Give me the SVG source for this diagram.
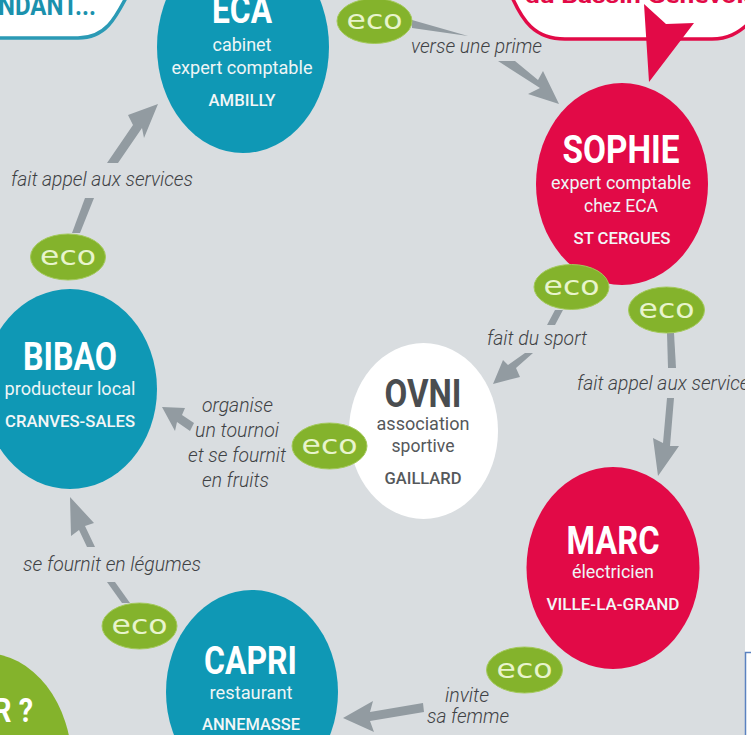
<svg xmlns="http://www.w3.org/2000/svg" width="751" height="735" viewBox="0 0 751 735">
<style>
text{font-family:Roboto,"Liberation Sans",sans-serif;text-anchor:middle}
.n{font-weight:700;font-size:38px;fill:#fff}
.s{font-size:19px;fill:#eef5f6}
.c{font-size:17px;font-weight:500;fill:#f3f6f7}
.d{fill:#55585b}
.l{font-size:19.500px;font-style:italic;font-weight:300;fill:#3f4245}
.e{fill:#84b32c;stroke:#a3c95a;stroke-width:1}
.et{font-family:"DejaVu Sans",sans-serif;font-size:27px;fill:#e8f4cc}
.a{fill:#929ba1}
.b{fill:#0f98b5}.r{fill:#e20a47}
</style>
<rect width="751" height="735" fill="#d9dde0"/>
<g id="bubble-left"><path d="M-10-10H130C115 20 105 38 78 38H-10Z" fill="#fff" stroke="#2b9ab5" stroke-width="3.500"/><text x="47" y="15" font-size="27" font-weight="700" fill="#1b91ad" textLength="98" lengthAdjust="spacingAndGlyphs">NDANT...</text></g>
<g id="bubble-right"><path d="M509-10C522 22 535 39 565 39H712C728 39 738 33 748 24V-10Z" fill="#fff" stroke="#e20a47" stroke-width="3.500"/><text x="525" y="3" font-size="22" font-weight="700" fill="#e20a47" style="text-anchor:start" textLength="232" lengthAdjust="spacingAndGlyphs">du Bassin  Genevois</text></g>
<g id="connectors">
<path class="r" d="M644 4L666 24L694 23L649 82Z"/>
<path class="a" d="M412 20L468 36L412 28Z"/>
<path class="a" d="M498 61H515L538 80L543 71L559 104L528 94L540 88Z"/>
<path class="a" d="M107 163L133 125L128 115L158 104L144 138L142 128L118 163Z"/>
<path class="a" d="M85 198H94L80 233H72Z"/>
<path class="a" d="M555 310H563L555 325H547Z"/>
<path class="a" d="M525 353H533L516 368L520 377L493 384L503 360L508 365Z"/>
<path class="a" d="M667 333H674L676 368H668Z"/>
<path class="a" d="M667 398H674L670 446L679 446L658 476L653 438L663 443Z"/>
<path class="a" d="M162 407L185 408L182 415L194 423L190 431L177 422L175 431Z"/>
<path class="a" d="M70 497L94 523L85 526L95 547H87L79 530L71 536Z"/>
<path class="a" d="M107 582H115L130 603H122Z"/>
<path class="a" d="M343 718L373 701L370 712L423 703L424 712L370 721L374 732Z"/>
</g>
<g id="eca"><ellipse cx="243" cy="47" rx="86" ry="106" class="b"/><text x="242" y="23" class="n" textLength="60" lengthAdjust="spacingAndGlyphs">ECA</text><text x="242" y="51" class="s" textLength="59" lengthAdjust="spacingAndGlyphs">cabinet</text><text x="242" y="74" class="s" textLength="141" lengthAdjust="spacingAndGlyphs">expert comptable</text><text x="242" y="106" class="c" textLength="67" lengthAdjust="spacingAndGlyphs">AMBILLY</text></g>
<g id="sophie"><ellipse cx="622" cy="184" rx="86" ry="101" class="r"/><text x="621" y="163" class="n" textLength="117" lengthAdjust="spacingAndGlyphs">SOPHIE</text><text x="621" y="189" class="s" textLength="140" lengthAdjust="spacingAndGlyphs">expert comptable</text><text x="621" y="212" class="s" textLength="74" lengthAdjust="spacingAndGlyphs">chez ECA</text><text x="622" y="244" class="c" textLength="97" lengthAdjust="spacingAndGlyphs">ST CERGUES</text></g>
<g id="bibao"><ellipse cx="70" cy="389" rx="87" ry="100" class="b"/><text x="70" y="370" class="n" textLength="94" lengthAdjust="spacingAndGlyphs">BIBAO</text><text x="70" y="395" class="s" textLength="131" lengthAdjust="spacingAndGlyphs">producteur local</text><text x="70" y="427" class="c" textLength="130" lengthAdjust="spacingAndGlyphs">CRANVES-SALES</text></g>
<g id="ovni"><ellipse cx="423.500" cy="431" rx="74.500" ry="88" fill="#fff"/><text x="423" y="407" class="n d" style="fill:#4a4d50" textLength="77" lengthAdjust="spacingAndGlyphs">OVNI</text><text x="423" y="430" class="s d" style="fill:#55585b" textLength="93" lengthAdjust="spacingAndGlyphs">association</text><text x="423" y="452" class="s d" style="fill:#55585b" textLength="63" lengthAdjust="spacingAndGlyphs">sportive</text><text x="423" y="484" class="c d" style="fill:#55585b" textLength="77" lengthAdjust="spacingAndGlyphs">GAILLARD</text></g>
<g id="marc"><ellipse cx="613" cy="568" rx="86.500" ry="101" class="r"/><text x="613" y="554" class="n" textLength="93" lengthAdjust="spacingAndGlyphs">MARC</text><text x="613" y="578" class="s" textLength="82" lengthAdjust="spacingAndGlyphs">électricien</text><text x="613" y="610" class="c" textLength="133" lengthAdjust="spacingAndGlyphs">VILLE-LA-GRAND</text></g>
<g id="capri"><ellipse cx="252" cy="692" rx="86" ry="102" class="b"/><text x="250.500" y="674" class="n" textLength="93" lengthAdjust="spacingAndGlyphs">CAPRI</text><text x="251" y="699" class="s" textLength="83" lengthAdjust="spacingAndGlyphs">restaurant</text><text x="251" y="730" class="c" textLength="98" lengthAdjust="spacingAndGlyphs">ANNEMASSE</text></g>
<g id="green"><ellipse cx="-15" cy="765" rx="87" ry="112" fill="#84b32c"/><text x="13" y="722" font-size="34" font-weight="700" fill="#fff" textLength="40" lengthAdjust="spacingAndGlyphs">R ?</text></g>
<g id="eco-1"><ellipse cx="374.500" cy="21" rx="37.500" ry="22.500" class="e"/><text x="374.500" y="29" class="et" textLength="56" lengthAdjust="spacingAndGlyphs">eco</text></g>
<g id="eco-2"><ellipse cx="68" cy="257" rx="37.500" ry="23" class="e"/><text x="68" y="265" class="et" textLength="56" lengthAdjust="spacingAndGlyphs">eco</text></g>
<g id="eco-3"><ellipse cx="571.500" cy="287" rx="37.500" ry="22.500" class="e"/><text x="571.500" y="295" class="et" textLength="56" lengthAdjust="spacingAndGlyphs">eco</text></g>
<g id="eco-4"><ellipse cx="666.500" cy="310" rx="38" ry="23" class="e"/><text x="666.500" y="318" class="et" textLength="56" lengthAdjust="spacingAndGlyphs">eco</text></g>
<g id="eco-5"><ellipse cx="329.500" cy="446" rx="37.500" ry="23" class="e"/><text x="329.500" y="454" class="et" textLength="56" lengthAdjust="spacingAndGlyphs">eco</text></g>
<g id="eco-6"><ellipse cx="139.500" cy="626" rx="37.500" ry="23" class="e"/><text x="139.500" y="634" class="et" textLength="56" lengthAdjust="spacingAndGlyphs">eco</text></g>
<g id="eco-7"><ellipse cx="524.500" cy="670" rx="38" ry="23" class="e"/><text x="524.500" y="678" class="et" textLength="56" lengthAdjust="spacingAndGlyphs">eco</text></g>
<g id="labels">
<text x="476.500" y="53" class="l" textLength="131" lengthAdjust="spacingAndGlyphs">verse une prime</text>
<text x="102" y="186" class="l" textLength="182" lengthAdjust="spacingAndGlyphs">fait appel aux services</text>
<text x="537" y="345" class="l" textLength="100" lengthAdjust="spacingAndGlyphs">fait du sport</text>
<text x="577" y="390" class="l" style="text-anchor:start" textLength="182" lengthAdjust="spacingAndGlyphs">fait appel aux services</text>
<text x="237.500" y="412" class="l" textLength="71" lengthAdjust="spacingAndGlyphs">organise</text>
<text x="237" y="437" class="l" textLength="84" lengthAdjust="spacingAndGlyphs">un tournoi</text>
<text x="237" y="462" class="l" textLength="98" lengthAdjust="spacingAndGlyphs">et se fournit</text>
<text x="235.500" y="487" class="l" textLength="67" lengthAdjust="spacingAndGlyphs">en fruits</text>
<text x="112" y="571" class="l" textLength="178" lengthAdjust="spacingAndGlyphs">se fournit en légumes</text>
<text x="467" y="702" class="l" textLength="44" lengthAdjust="spacingAndGlyphs">invite</text>
<text x="468" y="723" class="l" textLength="82" lengthAdjust="spacingAndGlyphs">sa femme</text>
</g>
<rect x="745" width="6" height="735" fill="#fff"/>
<path d="M745.500 735V652.500H751" fill="none" stroke="#5b82c0" stroke-width="1.500"/>
</svg>
